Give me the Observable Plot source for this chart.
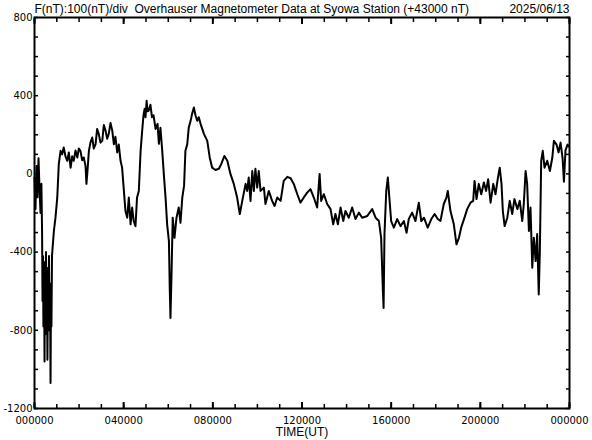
<!DOCTYPE html>
<html><head><meta charset="utf-8">
<script src="https://cdn.jsdelivr.net/npm/d3@7"></script>
<script src="https://cdn.jsdelivr.net/npm/@observablehq/plot@0.6"></script>
<style>body{margin:0;background:#fff}</style>
</head><body><div id="chart"></div>
<script>
const titleText = "F(nT):100(nT)/div  Overhauser Magnetometer Data at Syowa Station (+43000 nT)";
const dateText = "2025/06/13";
const xLabel = "TIME(UT)";

const hours = [0.00,0.045,0.09,0.135,0.18,0.22,0.27,
0.31,0.34,0.36,0.38,0.40,0.425,0.45,0.47,0.49,0.515,0.54,0.56,0.58,0.605,0.63,0.65,0.67,0.695,0.72,0.74,0.76,0.785,0.81,
0.87,
0.94,1.02,1.09,1.17,1.24,1.31,1.39,1.47,1.54,1.62,
1.69,1.76,1.84,1.92,1.99,2.06,2.14,2.21,2.29,2.33,
2.38,2.44,2.51,2.59,2.66,2.74,2.81,2.88,2.96,3.04,
3.11,3.19,3.26,3.33,3.41,3.49,3.56,3.63,3.71,3.78,
3.86,3.93,4.01,4.08,4.16,4.23,4.31,4.38,4.45,4.53,
4.60,4.68,4.76,4.83,4.89,4.94,4.98,5.03,5.07,5.12,
5.20,5.27,5.34,5.43,5.52,5.58,5.65,5.73,5.80,5.88,
5.95,6.03,6.07,6.10,6.15,6.20,6.28,6.37,6.47,6.55,
6.63,6.71,6.77,6.85,6.92,7.00,7.07,7.15,7.22,7.30,
7.37,7.45,7.60,7.75,7.86,7.97,8.12,8.27,8.38,8.52,
8.65,8.79,8.94,9.09,9.21,9.32,9.47,9.54,9.61,9.69,
9.77,9.84,9.91,9.99,10.06,10.14,10.29,10.36,10.51,10.66,
10.77,10.89,11.04,11.18,11.34,11.49,11.63,11.79,11.93,12.08,
12.23,12.38,12.53,12.68,12.79,12.86,12.98,13.13,13.28,13.40,
13.50,13.61,13.73,13.85,13.95,14.10,14.25,14.40,14.55,14.70,
14.93,15.15,15.30,15.45,15.55,15.63,15.66,15.70,15.78,15.85,
15.93,16.00,16.12,16.27,16.42,16.57,16.69,16.79,16.94,17.09,
17.24,17.35,17.47,17.64,17.80,17.95,18.09,18.21,18.36,18.48,
18.54,18.66,18.81,18.93,19.04,19.14,19.29,19.41,19.56,19.68,
19.74,19.83,19.93,20.04,20.16,20.26,20.35,20.46,20.58,20.68,
20.79,20.87,20.95,21.01,21.09,21.21,21.32,21.43,21.53,21.66,
21.77,21.88,21.95,22.03,22.10,22.18,22.25,22.33,22.40,22.48,
22.55,22.62,22.67,22.73,22.80,22.88,23.00,23.12,23.23,23.30,
23.42,23.51,23.60,23.69,23.75,23.82,23.91,23.98];

const nT = [-20,-180,40,-120,80,-60,-200,
-50,-300,-650,-420,-780,-450,-960,-520,-820,-400,-760,-480,-950,-550,-800,-420,-740,-560,-1070,-620,-780,-420,-380,
-292,
-225,-123,51,118,100,135,90,67,110,32,
90,67,120,84,130,118,70,84,40,-51,
20,118,160,186,130,152,230,205,160,169,
250,220,180,205,260,220,152,190,110,150,
67,32,-87,-190,-224,-121,-258,-172,-241,-267,
-121,-87,118,220,300,333,290,374,320,323,
354,290,300,230,256,154,236,118,0,-123,
-258,-344,-600,-737,-497,-224,-327,-224,-172,-250,
-121,-60,118,150,237,270,307,340,300,272,
290,256,205,169,84,32,20,26,51,92,
67,0,-51,-121,-205,-138,-51,-87,-19,-138,
15,-87,26,-70,15,-87,-70,-154,-87,-138,
-164,-121,-138,-36,-15,-22,-51,-104,-147,-121,
-96,-78,-121,-172,0,-138,-104,-154,-180,-258,
-205,-258,-172,-241,-190,-224,-172,-231,-198,-224,
-215,-180,-224,-241,-327,-600,-686,-308,-87,-19,
-138,-241,-275,-231,-267,-241,-301,-231,-198,-241,
-147,-241,-224,-275,-231,-205,-231,-241,-154,-121,
-87,-190,-258,-360,-327,-275,-224,-180,-147,-138,
-36,-129,-51,-104,-44,-87,-27,-147,-51,-104,
-19,32,-51,-190,-267,-224,-138,-205,-129,-180,
-138,-241,-154,15,-51,-292,-172,-480,-327,-446,
-308,-617,-395,67,118,32,67,15,84,169,
150,110,160,80,-40,120,150,140];

const xTickHours = [0,4,8,12,16,20,24];
const xTickLabels = ["000000","040000","080000","120000","160000","200000","000000"];
const xMinorHours = [0,1,2,3,4,5,6,7,8,9,10,11,12,13,14,15,16,17,18,19,20,21,22,23,24];
const yTickValues = [800,400,0,-400,-800,-1200];
const yTickLabels = ["800","400","0","-400","-800","-1200"];
const yMinorValues = [800,700,600,500,400,300,200,100,0,-100,-200,-300,-400,-500,-600,-700,-800,-900,-1000,-1100,-1200];

const data = hours.map((h, i) => ({h, v: nT[i]}));

const chart = Plot.plot({
  width: 592, height: 440,
  marginLeft: 34, marginRight: 23, marginTop: 17, marginBottom: 32,
  x: {domain: [0, 24]},
  y: {domain: [-1200, 800]},
  style: {fontFamily: "DejaVu Sans", fontSize: "10px", color: "#000", background: "#fff"},
  marks: [
    Plot.line(data, {x: "h", y: "v", stroke: "#000", strokeWidth: 2}),
    Plot.frame({stroke: "#000", strokeWidth: 2}),
    // inward minor ticks
    Plot.axisX(xMinorHours, {anchor: "bottom", tickSize: 4, dy: -4, fill: "none", strokeWidth: 1.5, label: null}),
    Plot.axisX(xMinorHours, {anchor: "top", tickSize: 4, dy: 4, fill: "none", strokeWidth: 1.5, label: null}),
    Plot.axisX(xTickHours, {anchor: "bottom", tickSize: 6, dy: -6, fill: "none", strokeWidth: 2, label: null}),
    Plot.axisX(xTickHours, {anchor: "top", tickSize: 6, dy: 6, fill: "none", strokeWidth: 2, label: null}),
    Plot.axisY(yMinorValues, {anchor: "left", tickSize: 4, dx: 4, fill: "none", strokeWidth: 1.5, label: null}),
    Plot.axisY(yMinorValues, {anchor: "right", tickSize: 4, dx: -4, fill: "none", strokeWidth: 1.5, label: null}),
    // labels
    Plot.axisX(xTickHours, {anchor: "bottom", tickSize: 0, tickPadding: 8, label: null,
      tickFormat: d => xTickLabels[xTickHours.indexOf(d)], fontSize: 10}),
    Plot.axisY(yTickValues, {anchor: "left", tickSize: 0, tickPadding: 2, label: null,
      tickFormat: d => yTickLabels[yTickValues.indexOf(d)], fontSize: 10}),
    Plot.text([titleText], {frameAnchor: "top-left", textAnchor: "start", lineAnchor: "middle", dy: -8,
      fontSize: 12, fontFamily: "Liberation Sans", fill: "#000"}),
    Plot.text([dateText], {frameAnchor: "top-right", textAnchor: "end", lineAnchor: "middle", dy: -8,
      fontSize: 12, fontFamily: "Liberation Sans", fill: "#000"}),
    Plot.text([xLabel], {frameAnchor: "bottom", textAnchor: "middle", lineAnchor: "middle", dy: 24,
      fontSize: 12, fontFamily: "Liberation Sans", fill: "#000"})
  ]
});
document.getElementById("chart").appendChild(chart);
</script>
</body></html>
